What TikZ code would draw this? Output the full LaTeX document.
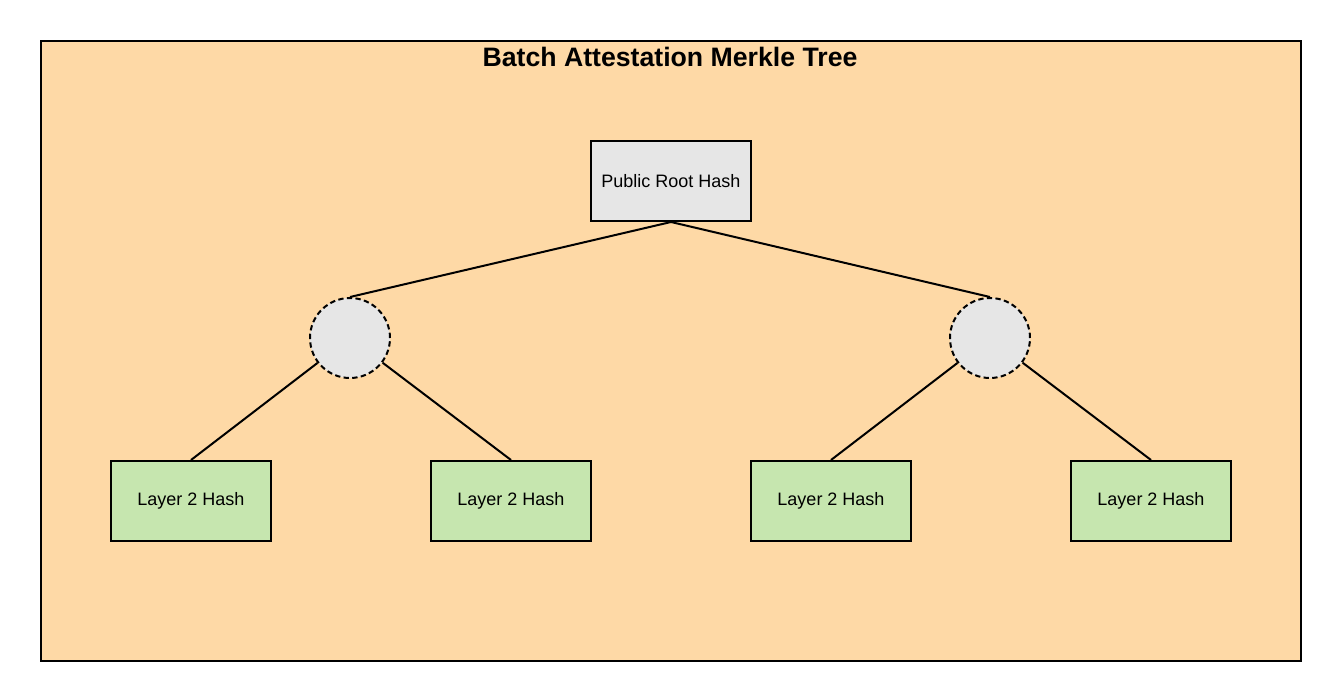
\documentclass[tikz,border=0pt]{standalone}
\usepackage{fontspec}
\setmainfont{Liberation Sans}
\definecolor{peach}{HTML}{FED9A6}
\definecolor{boxgray}{HTML}{E6E6E6}
\definecolor{leafgreen}{HTML}{C6E6AF}
\begin{document}
\begin{tikzpicture}[x=0.75pt,y=-0.75pt,
  hashbox/.style={draw=black,line width=1.5pt,minimum width=120pt,minimum height=60pt,inner sep=0pt,font=\fontsize{13.5pt}{16pt}\selectfont,anchor=north west},
  rootbox/.style={hashbox,fill=boxgray},
  leafbox/.style={hashbox,fill=leafgreen},
  midnode/.style={circle,draw=black,dash pattern=on 4pt off 2.5pt,line width=1.5pt,fill=boxgray,minimum size=60pt,inner sep=0pt},
  edge/.style={draw=black,line width=1.5pt}]
\useasboundingbox (0,0) rectangle (1340,700);
\fill[white] (0,0) rectangle (1340,700);
\node[draw=black,line width=1.5pt,fill=peach,minimum width=945pt,minimum height=465pt,inner sep=0pt,anchor=north west] (frame) at (40,40) {};
\node[font=\bfseries\fontsize{20pt}{24pt}\selectfont] (title) at (670,57) {Batch Attestation Merkle Tree};
\node[rootbox] (root) at (590,140) {Public Root Hash};
\node[midnode] (m1) at (350,338) {};
\node[midnode] (m2) at (990,338) {};
\node[leafbox] (l1) at (110,460) {Layer 2 Hash};
\node[leafbox] (l2) at (430,460) {Layer 2 Hash};
\node[leafbox] (l3) at (750,460) {Layer 2 Hash};
\node[leafbox] (l4) at (1070,460) {Layer 2 Hash};
\draw[edge] (root.south) -- (m1.north);
\draw[edge] (root.south) -- (m2.north);
\draw[edge] (l1.north) -- (m1);
\draw[edge] (l2.north) -- (m1);
\draw[edge] (l3.north) -- (m2);
\draw[edge] (l4.north) -- (m2);
\end{tikzpicture}
\end{document}
